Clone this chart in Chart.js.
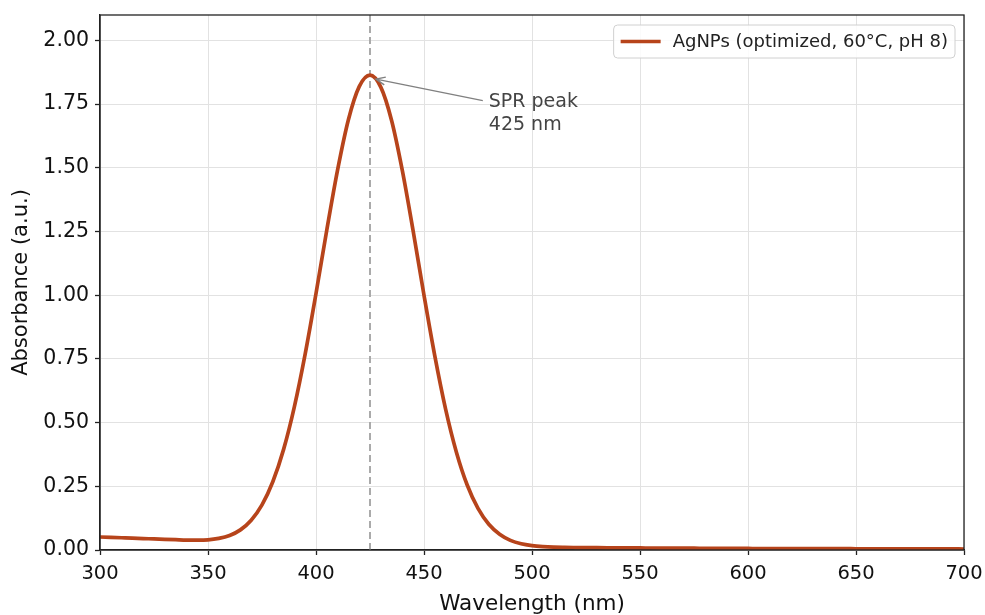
<!DOCTYPE html>
<html>
<head>
<meta charset="utf-8">
<script src="https://cdn.jsdelivr.net/npm/chart.js@4.4.1/dist/chart.umd.min.js"></script>
<style>
html, body { margin: 0; padding: 0; background: #fff; }
#c { display: block; }
</style>
</head>
<body>
<canvas id="c" width="985" height="615"></canvas>
<script>
// wavelength (nm) and absorbance
const wavelengths = [300,305,310,315,320,325,330,335,340,345,350,355,360,365,370,375,380,385,390,395,
 400,405,410,415,420,425,430,435,440,445,450,455,460,465,470,475,480,485,490,495,
 500,505,510,515,520,525,530,535,540,545,550,555,560,565,570,575,580,585,590,595,
 600,605,610,615,620,625,630,635,640,645,650,655,660,665,670,675,680,685,690,695,700]
const absorbance = [0.051,0.0495,0.048,0.0465,0.045,0.0435,0.042,0.0405,0.039,0.039,0.040,0.0455,0.057,0.079,0.117,0.177,0.268,0.395,0.563,0.770,
 1.007,1.256,1.492,1.689,1.819,1.864,1.817,1.686,1.488,1.251,1.000,0.762,0.553,0.384,0.255,0.163,0.101,0.062,0.038,0.0245,
 0.0174,0.0135,0.0113,0.0103,0.0097,0.0093,0.0090,0.0087,0.0085,0.0082,0.0080,0.0078,0.0076,0.0074,0.0072,0.0070,0.0068,0.0066,0.0064,0.0062,
 0.0060,0.0059,0.0058,0.0057,0.0056,0.0055,0.0054,0.0053,0.0052,0.0051,0.0050,0.0049,0.0048,0.0047,0.0046,0.0045,0.0044,0.0043,0.0042,0.0041,0.0040]
const xTicks = [300,350,400,450,500,550,600,650,700]
const yTicks = [0,0.25,0.5,0.75,1.0,1.25,1.5,1.75,2.0]
const peakNm = 425
const peakAbs = 1.864
const seriesLabel = 'AgNPs (optimized, 60°C, pH 8)'
const annotLines = ['SPR peak', '425 nm']

const lineColor = '#b7441b'
const fontFam = '"DejaVu Sans", sans-serif'

const points = wavelengths.map((w, i) => ({x: w, y: absorbance[i]}))

// dashed marker line at the peak, drawn under the curve
const peakLine = {
  id: 'peakLine',
  beforeDatasetsDraw(chart) {
    const ctx = chart.ctx, a = chart.chartArea
    const x = chart.scales.x.getPixelForValue(peakNm)
    ctx.save()
    ctx.strokeStyle = '#aaaaaa'
    ctx.lineWidth = 2
    ctx.setLineDash([7, 4])
    ctx.beginPath()
    ctx.moveTo(x, a.bottom)
    ctx.lineTo(x, a.top)
    ctx.stroke()
    ctx.restore()
  }
}

// frame, annotation and legend box
const extras = {
  id: 'extras',
  afterDraw(chart) {
    const ctx = chart.ctx, a = chart.chartArea
    const xs = chart.scales.x, ys = chart.scales.y
    ctx.save()
    ctx.strokeStyle = '#222'
    ctx.lineWidth = 1.3
    ctx.strokeRect(a.left, a.top, a.right - a.left, a.bottom - a.top)

    // annotation
    const tx = xs.getPixelForValue(480)
    const ty = ys.getPixelForValue(1.76)
    ctx.font = '19px ' + fontFam
    ctx.fillStyle = '#444'
    ctx.textBaseline = 'middle'
    ctx.textAlign = 'left'
    ctx.fillText(annotLines[0], tx, ty)
    ctx.fillText(annotLines[1], tx, ty + 23)
    const px = xs.getPixelForValue(peakNm) + 6
    const py = ys.getPixelForValue(peakAbs) + 4
    const sx = tx - 6, sy = ty - 1
    ctx.strokeStyle = '#808080'
    ctx.lineWidth = 1.5
    ctx.beginPath()
    ctx.moveTo(sx, sy)
    ctx.lineTo(px, py)
    const ang = Math.atan2(py - sy, px - sx)
    ctx.moveTo(px - 10 * Math.cos(ang - 0.4), py - 10 * Math.sin(ang - 0.4))
    ctx.lineTo(px, py)
    ctx.lineTo(px - 10 * Math.cos(ang + 0.4), py - 10 * Math.sin(ang + 0.4))
    ctx.stroke()

    // legend
    ctx.font = '18px ' + fontFam
    const tw = ctx.measureText(seriesLabel).width
    const bw = 7 + 40 + 12 + tw + 7
    const bh = 33
    const bx = a.right - 9 - bw
    const by = a.top + 10
    ctx.fillStyle = 'rgba(255,255,255,0.85)'
    ctx.strokeStyle = '#d0d0d0'
    ctx.lineWidth = 1
    ctx.beginPath()
    ctx.roundRect(bx, by, bw, bh, 4)
    ctx.fill()
    ctx.stroke()
    ctx.strokeStyle = lineColor
    ctx.lineWidth = 3.5
    ctx.beginPath()
    ctx.moveTo(bx + 7, by + bh / 2)
    ctx.lineTo(bx + 47, by + bh / 2)
    ctx.stroke()
    ctx.fillStyle = '#222'
    ctx.textBaseline = 'middle'
    ctx.fillText(seriesLabel, bx + 59, by + bh / 2 + 1)
    ctx.restore()
  }
}

new Chart(document.getElementById('c'), {
  type: 'line',
  data: {
    datasets: [{
      label: seriesLabel,
      data: points,
      borderColor: lineColor,
      borderWidth: 3.7,
      pointRadius: 0,
      fill: false,
      cubicInterpolationMode: 'monotone'
    }]
  },
  options: {
    responsive: false,
    animation: false,
    layout: { padding: { top: 15, right: 21, left: 0, bottom: 0 } },
    plugins: { legend: { display: false }, tooltip: { enabled: false } },
    scales: {
      x: {
        type: 'linear',
        min: 300, max: 700,
        afterFit(s) { s.height = 65; s.paddingLeft = 0; s.paddingRight = 0 },
        afterBuildTicks(s) { s.ticks = xTicks.map(v => ({value: v})) },
        ticks: { color: '#111', font: { size: 19.5, family: fontFam }, padding: 7, maxRotation: 0 },
        grid: { color: '#e2e2e2', lineWidth: 1, tickLength: 5, tickColor: '#222', tickWidth: 1.3 },
        border: { color: '#222', width: 1.3 },
        title: { display: true, text: 'Wavelength (nm)', color: '#111', font: { size: 21.5, family: fontFam }, padding: { top: 0, bottom: -2 } }
      },
      y: {
        min: 0, max: 2.1,
        afterFit(s) { s.width = 100; s.paddingTop = 0; s.paddingBottom = 0 },
        afterBuildTicks(s) { s.ticks = yTicks.map(v => ({value: v})) },
        ticks: { color: '#111', font: { size: 20.5, family: fontFam }, padding: 6, callback: v => v.toFixed(2) },
        grid: { color: '#e2e2e2', lineWidth: 1, tickLength: 5, tickColor: '#222', tickWidth: 1.3 },
        border: { color: '#222', width: 1.3 },
        title: { display: true, text: 'Absorbance (a.u.)', color: '#111', font: { size: 21, family: fontFam }, padding: { top: 9, bottom: 0 } }
      }
    }
  },
  plugins: [peakLine, extras]
})
</script>
</body>
</html>
